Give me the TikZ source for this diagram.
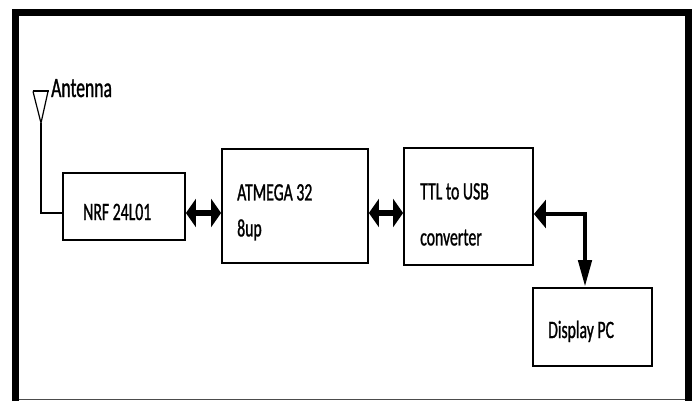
\documentclass[tikz,border=0pt]{standalone}
\usepackage{fontspec}
\usepackage{tikz}
\usetikzlibrary{arrows.meta}
\newfontfamily\blkfont[FakeStretch=0.63, FakeBold=1]{Carlito}

\begin{document}
\begin{tikzpicture}[x=1pt, y=-1pt,
    every node/.style={font=\blkfont\fontsize{25}{30}\selectfont, inner sep=0pt},
    blk/.style={draw, line width=1.8pt},
    dbl/.style={line width=6pt, {Triangle[length=10pt,width=28pt]}-{Triangle[length=10pt,width=28pt]}}]
  \useasboundingbox (0,0) rectangle (692,401);
  % frame
  \draw[line width=7pt] (15.5,401) -- (15.5,12.5) -- (688.5,12.5) -- (688.5,401);
  \draw[line width=1.2pt, black!70] (19,399.3) -- (685,399.3);
  % blocks
  \node[blk, minimum width=122pt, minimum height=67pt] (nrf) at (124,206.5) {};
  \node[blk, minimum width=146pt, minimum height=114pt] (atm) at (295,206) {};
  \node[blk, minimum width=129pt, minimum height=117pt] (ttl) at (468.5,206.5) {};
  \node[blk, minimum width=119pt, minimum height=78pt] (disp) at (592.5,327) {};
  \node[anchor=base west] (nrftxt) at (83,220) {NRF 24L01};
  \node[anchor=north west, align=left] (atmtxt) at (237,184) {ATMEGA 32\\[6pt]8up};
  \node[anchor=north west, align=left] (ttltxt) at (420,183) {TTL to USB\\[16pt]converter};
  \node[anchor=base west] (disptxt) at (548,338) {Display PC};
  % antenna
  \coordinate (ant) at (41,123);
  \draw[line width=2pt] (32.5,91.5) -- (48.5,91.5);
  \draw[line width=1.2pt] (33,91.5) -- (ant) -- (48,91.5);
  \node[anchor=base west, font=\blkfont\fontsize{28}{34}\selectfont] (antlbl) at (51,97) {Antenna};
  \draw[line width=1.3pt] (ant) |- ([yshift=-6.5pt]nrf.west);
  % links
  \draw[dbl] ([yshift=-6.5pt]nrf.east) -- ([yshift=-6.5pt]nrf.east -| atm.west);
  \draw[dbl] ([yshift=-7pt]atm.east) -- ([yshift=-7pt]atm.east -| ttl.west);
  \draw[line width=4.5pt, {Triangle[length=12pt,width=28pt]}-{Triangle[length=27pt,width=13pt]}]
    ([yshift=-7.5pt]ttl.east) -| ([xshift=-7.5pt]disp.north);
\end{tikzpicture}
\end{document}
